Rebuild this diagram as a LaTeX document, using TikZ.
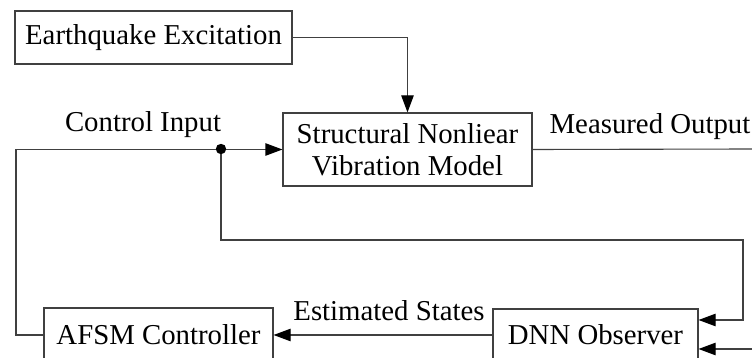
\documentclass[tikz,border=0pt]{standalone}
\usepackage{fontspec}
\setmainfont{Liberation Serif}
\usetikzlibrary{arrows.meta}
\definecolor{linecolor}{HTML}{404040}

\tikzset{
  blockbox/.style={draw=linecolor, line width=0.55pt, rectangle, fill=white, inner sep=0pt, align=center, font=\fontsize{14.4pt}{16.2pt}\selectfont},
  sigline/.style={draw=linecolor, line width=0.55pt},
  sigarrow/.style={sigline, -{Triangle[length=8.5pt, width=6.2pt, color=black]}},
  siglabel/.style={font=\fontsize{14.4pt}{16.2pt}\selectfont, inner sep=0pt},
}

\begin{document}
\begin{tikzpicture}[x=0.5pt, y=-0.5pt]%
\useasboundingbox (0,0) rectangle (752,358);%
\clip (0,0) rectangle (752,358);%
\node[blockbox, minimum width=138.5pt, minimum height=26.5pt] (quake) at (153.5, 37.5) {Earthquake Excitation};%
\node[blockbox, minimum width=124.5pt, minimum height=36.5pt] (model) at (407.5, 149.5) {Structural Nonliear\\Vibration Model};%
\node[blockbox, minimum width=102.5pt, minimum height=26pt] (observer) at (595.5, 335) {DNN Observer};%
\node[blockbox, minimum width=114.5pt, minimum height=27pt] (ctrl) at (158.5, 335) {AFSM Controller};%
\coordinate (split) at (221, 149);%
\coordinate (leftturn) at (16, 335);%
\coordinate (backturn) at (743, 240);%
\coordinate (outend) at (752, 149);%
\coordinate (measin) at (752, 349);%
\node[siglabel] (lblctrl) at (143, 125) {Control Input};%
\node[siglabel] (lblmeas) at (650, 127) {Measured Output};%
\node[siglabel] (lblest) at (389, 311) {Estimated States};%
\draw[sigarrow] (quake.east) -| (model.north);%
\draw[sigarrow] (ctrl.west) -- (leftturn) |- (model.west);%
\draw[sigarrow] (split) |- (backturn) |- ([yshift=7.5pt]observer.east);%
\draw[sigline] (model.east) -- (outend);%
\draw[sigarrow] (measin) -- ([yshift=-7pt]observer.east);%
\draw[sigarrow] (observer.west) -- (ctrl.east);%
\fill[black] (split) circle (2.6pt);%
\end{tikzpicture}
\end{document}
